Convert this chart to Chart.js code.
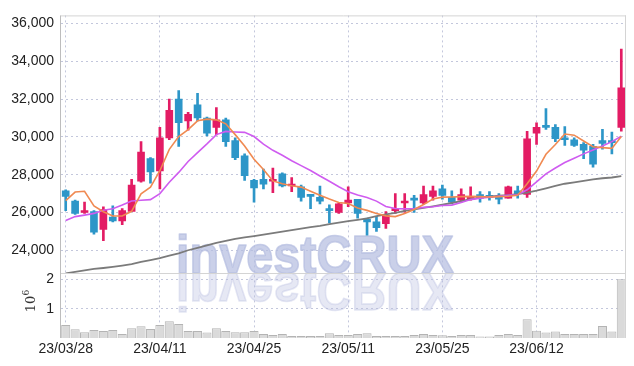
<!DOCTYPE html>
<html>
<head>
<meta charset="utf-8">
<script src="https://cdn.jsdelivr.net/npm/chart.js@4"></script>
<style>
  html, body { margin: 0; padding: 0; background: #fff; }
  #wrap { width: 634px; height: 366px; }
</style>
</head>
<body>
<div id="wrap"><canvas id="myChart"></canvas></div>
<script>
const dates = ['23/03/28','23/03/29','23/03/30','23/03/31','23/04/03','23/04/04','23/04/05','23/04/06','23/04/07','23/04/10',
  '23/04/11','23/04/12','23/04/13','23/04/14','23/04/17','23/04/18','23/04/19','23/04/20','23/04/21','23/04/24',
  '23/04/25','23/04/26','23/04/27','23/04/28','23/05/02','23/05/03','23/05/04','23/05/08','23/05/09','23/05/10',
  '23/05/11','23/05/12','23/05/15','23/05/16','23/05/17','23/05/18','23/05/19','23/05/22','23/05/23','23/05/24',
  '23/05/25','23/05/26','23/05/30','23/05/31','23/06/01','23/06/02','23/06/05','23/06/07','23/06/08','23/06/09',
  '23/06/12','23/06/13','23/06/14','23/06/15','23/06/16','23/06/19','23/06/20','23/06/21','23/06/22','23/06/23'];

const opens = [27150,26600,26000,26050,25100,25750,25550,26050,27650,28850,
  28200,29950,32000,30850,31700,31000,30500,30900,29800,29000,
  27700,27750,27650,28050,27400,27350,26900,26800,26200,26000,
  26500,26700,25650,25500,25400,26100,26500,26700,26500,26850,
  27250,26800,26650,26700,26950,26900,26850,26750,27150,26950,
  30200,30600,30500,29950,29850,29600,29500,29800,29750,30500];
const highs = [27200,26650,26550,26100,26300,26350,26200,27750,29750,28900,
  30500,32000,32450,31300,32300,31050,31550,31000,29950,29100,
  27750,28300,28350,28100,27850,27450,26900,27400,26400,26500,
  27350,26700,25700,25800,26050,27000,27000,26900,27400,27400,
  27450,27150,27250,27350,27100,27100,27000,27400,27400,30300,
  30750,31500,30650,30550,29950,29700,29600,30400,30250,34650];
const lows = [26100,25900,25950,24850,24500,25500,25350,26050,27600,27550,
  27250,29850,29500,30350,30850,30050,30100,29500,28800,27700,
  26550,27250,27050,27350,27100,26600,26200,26450,25450,25950,
  26300,25700,24800,25000,25150,25950,26000,26000,26450,26650,
  26700,26450,26550,26650,26550,26650,26450,26750,26750,26800,
  29600,30400,29750,29550,29500,28850,28400,29350,29100,30300];
const closes = [26850,25950,26050,24950,26150,25550,26100,27450,29200,28150,
  29950,31400,30750,31200,31000,30200,30900,29750,28900,27950,
  27300,27500,27750,27400,27500,26800,26850,26600,26100,26450,
  26650,25950,25500,25200,25850,26200,26600,26650,26950,27150,
  26900,26550,26950,26850,26750,26800,26700,27350,27000,29900,
  30500,30500,29900,29850,29550,29300,28550,29650,29700,32600];

// moving averages
const ma5 = [26630,27080,27120,26340,26040,25810,25810,26060,26990,27340,
  28210,29340,30020,30380,30850,30940,30900,30690,30120,29520,
  28820,28270,27670,27520,27410,27340,27120,26910,26710,26530,
  26470,26240,26110,25950,25820,25780,25950,26160,26420,26710,
  26810,26820,26840,26850,26840,26820,26840,26860,26910,27520,
  28190,29080,29600,30150,30090,29780,29480,29430,29390,30020];
const ma20 = [25570,25780,25860,25950,26120,26200,26390,26610,26650,26680,
  27000,27600,28120,28700,29170,29630,30120,30290,30260,30240,
  30020,29620,29290,29030,28740,28480,28220,27930,27650,27360,
  27100,26920,26790,26600,26320,26210,26190,26210,26270,26300,
  26370,26390,26530,26680,26760,26810,26860,26910,26940,27200,
  27620,28040,28350,28640,28870,29100,29310,29520,29750,30030];
const ma120 = [22780,22850,22930,23010,23060,23120,23190,23270,23380,23480,
  23580,23710,23840,24000,24130,24260,24390,24500,24600,24680,
  24750,24830,24910,24990,25070,25150,25220,25290,25380,25460,
  25540,25610,25690,25800,25900,25980,26080,26160,26240,26320,
  26410,26500,26600,26710,26790,26840,26890,26920,26970,27050,
  27150,27280,27410,27520,27590,27670,27750,27810,27850,27920];

// volume, millions of shares
const volumes = [0.44,0.30,0.20,0.27,0.24,0.27,0.14,0.33,0.40,0.31,
  0.44,0.57,0.48,0.24,0.24,0.19,0.33,0.24,0.20,0.20,
  0.24,0.14,0.10,0.14,0.07,0.07,0.07,0.07,0.16,0.10,
  0.10,0.14,0.16,0.07,0.07,0.07,0.07,0.10,0.14,0.10,
  0.09,0.07,0.10,0.10,0.05,0.05,0.10,0.14,0.10,0.64,
  0.25,0.19,0.22,0.14,0.14,0.14,0.14,0.41,0.22,2.00];

const priceTicks = [24000, 26000, 28000, 30000, 32000, 34000, 36000];
const volTicks = [1, 2];

const UP = '#e31c64';
const DOWN = '#2d96c8';
const candleCol = opens.map((o, i) => closes[i] >= o ? UP : DOWN);
const gridCol = '#c3c7dc';
const tickFont = { family: "'Liberation Sans Narrow', 'Liberation Sans', sans-serif", size: 14 };

function drawMark(ctx, sx, sy, col) {
  ctx.scale(sx, sy);
  ctx.fillStyle = col;
  ctx.strokeStyle = col;
  ctx.lineWidth = 1.6;
  ctx.lineJoin = 'round';
  ctx.fillText('investCRUX', 0, 0);
  ctx.strokeText('investCRUX', 0, 0);
}

const decor = {
  id: 'decor',
  beforeDatasetsDraw(chart) {
    const ctx = chart.ctx;
    const ca = chart.chartArea;
    const base = chart.scales.vol.top;
    ctx.save();
    ctx.font = "bold 50px 'Liberation Sans', sans-serif";
    ctx.textBaseline = 'alphabetic';
    const w = ctx.measureText('investCRUX').width;
    const sx = 278 / w;
    ctx.save();
    ctx.beginPath();
    ctx.rect(ca.left, ca.top, ca.right - ca.left, base - ca.top);
    ctx.clip();
    ctx.translate(176, base);
    drawMark(ctx, sx, 1.06, 'rgba(182,190,224,0.72)');
    ctx.restore();
    ctx.save();
    ctx.beginPath();
    ctx.rect(ca.left, base, ca.right - ca.left, ca.bottom - base);
    ctx.clip();
    ctx.translate(176, base);
    drawMark(ctx, sx, -1.06, 'rgba(182,190,224,0.35)');
    ctx.restore();
    ctx.restore();
  },
  afterDraw(chart) {
    const ctx = chart.ctx;
    const ca = chart.chartArea;
    const base = chart.scales.vol.top;
    ctx.save();
    ctx.strokeStyle = '#d4d4d4';
    ctx.lineWidth = 1;
    ctx.beginPath();
    ctx.moveTo(ca.left, ca.top + 0.5); ctx.lineTo(ca.right, ca.top + 0.5);
    ctx.moveTo(ca.right - 0.5, ca.top); ctx.lineTo(ca.right - 0.5, ca.bottom);
    ctx.moveTo(ca.left, Math.round(base) + 0.5); ctx.lineTo(ca.right, Math.round(base) + 0.5);
    ctx.stroke();
    ctx.strokeStyle = '#bdbdbd';
    ctx.beginPath();
    ctx.moveTo(ca.left - 0.5, ca.top); ctx.lineTo(ca.left - 0.5, ca.bottom);
    ctx.stroke();
    // 10^6 label of volume axis
    ctx.translate(32, 304);
    ctx.rotate(-Math.PI / 2);
    ctx.fillStyle = '#333';
    ctx.font = "13px 'DejaVu Serif', serif";
    ctx.textAlign = 'center';
    ctx.textBaseline = 'middle';
    ctx.fillText('10', 0, 0);
    ctx.font = "9px 'DejaVu Serif', serif";
    ctx.textAlign = 'left';
    ctx.fillText('6', 8.5, -5.5);
    ctx.restore();
  }
};

const ctx = document.getElementById('myChart');

var myChart = new Chart(ctx, {
  type: 'bar',
  data: {
    labels: dates,
    datasets: [
      { type: 'line', label: 'MA5', data: ma5, yAxisID: 'y', borderColor: '#f08a52', borderWidth: 1.6, pointRadius: 0, order: 0 },
      { type: 'line', label: 'MA20', data: ma20, yAxisID: 'y', borderColor: '#cf5cf0', borderWidth: 1.6, pointRadius: 0, order: 0 },
      { type: 'line', label: 'MA120', data: ma120, yAxisID: 'y', borderColor: '#7b7b7b', borderWidth: 1.8, pointRadius: 0, order: 0 },
      { label: 'wick', data: lows.map((l, i) => [l, highs[i]]), yAxisID: 'y', backgroundColor: candleCol, barThickness: 2, grouped: false, order: 2 },
      { label: 'body', data: opens.map((o, i) => [o, closes[i]]), yAxisID: 'y', backgroundColor: candleCol, barThickness: 7, minBarLength: 2, grouped: false, order: 1 },
      { label: 'volume', data: volumes, yAxisID: 'vol', backgroundColor: '#dadada', borderColor: '#b4b4b4', borderWidth: 1, barPercentage: 0.96, categoryPercentage: 1, grouped: false, order: 3 }
    ]
  },
  options: {
    responsive: true,
    maintainAspectRatio: false,
    animation: false,
    layout: { padding: { left: 7, right: 8, top: 9, bottom: 0 } },
    plugins: { legend: { display: false }, tooltip: { enabled: false } },
    scales: {
      x: {
        offset: true,
        grid: { offset: false, drawTicks: false, color: c => (c.index % 10 === 0 ? gridCol : 'transparent') },
        border: { display: false, dash: [2, 3] },
        ticks: {
          autoSkip: false, maxRotation: 0, padding: 3, color: '#222', font: tickFont,
          callback: function (v, i) { return i % 10 === 0 ? this.getLabelForValue(v) : ''; }
        },
        afterFit(s) { s.height = 28; }
      },
      vol: {
        type: 'linear', position: 'left', stack: 'panels', stackWeight: 1,
        min: 0, max: 2.2,
        grid: { drawTicks: false, color: gridCol },
        border: { display: false, dash: [2, 3] },
        ticks: { padding: 7, color: '#222', font: tickFont },
        afterBuildTicks(s) { s.ticks = volTicks.map(v => ({ value: v })); },
        afterFit(s) { s.width = 54; }
      },
      y: {
        type: 'linear', position: 'left', stack: 'panels', stackWeight: 4,
        min: 22770, max: 36430,
        grid: { drawTicks: false, color: gridCol },
        border: { display: false, dash: [2, 3] },
        ticks: { padding: 7, color: '#222', font: tickFont, callback: v => v.toLocaleString('en-US') },
        afterBuildTicks(s) { s.ticks = priceTicks.map(v => ({ value: v })); },
        afterFit(s) { s.width = 54; }
      }
    }
  },
  plugins: [decor]
});
</script>
</body>
</html>
